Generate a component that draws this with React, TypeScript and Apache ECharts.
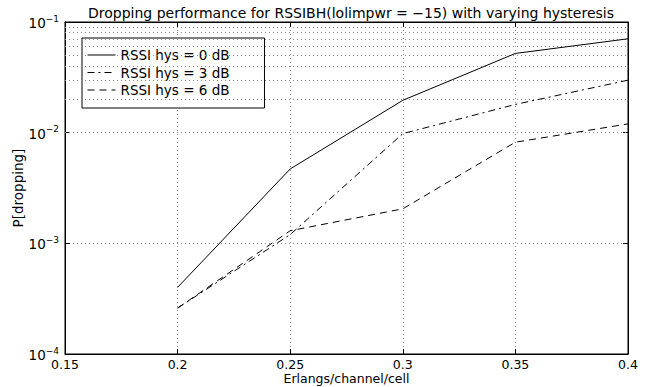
import React, { useEffect, useRef } from "react";
import * as echarts from "echarts";

const xValues = [0.2, 0.25, 0.3, 0.35, 0.4];
const hys0 = [4.0e-4, 4.7e-3, 0.0196, 0.052, 0.0705];
const hys3 = [2.6e-4, 1.2e-3, 0.0098, 0.018, 0.0298];
const hys6 = [2.6e-4, 1.3e-3, 2.05e-3, 8.2e-3, 0.012];
const seriesNames = ["RSSI hys = 0 dB", "RSSI hys = 3 dB", "RSSI hys = 6 dB"];
const titleText = "Dropping performance for RSSIBH(lolimpwr = \u221215) with varying hysteresis";
const xName = "Erlangs/channel/cell";
const yName = "P[dropping]";
const minorGrid = [
  2e-4, 3e-4, 4e-4, 5e-4, 6e-4, 7e-4, 8e-4, 9e-4,
  2e-3, 3e-3, 4e-3, 5e-3, 6e-3, 7e-3, 8e-3, 9e-3,
  2e-2, 3e-2, 4e-2, 5e-2, 6e-2, 7e-2, 8e-2, 9e-2,
];

const FONT = "DejaVu Sans";
const FS = 13.5;
const FS_AX = 12.5;

export default function App() {
  const ref = useRef<HTMLDivElement>(null);
  useEffect(() => {
    const chart = echarts.init(ref.current!, null, { renderer: "svg" });
    const mk = (vals: number[]) => xValues.map((x, i) => [x, vals[i]]);
    const gridDot = { color: "#8a8a8a", width: 1, type: [1, 3] as number[] };
    chart.setOption({
      animation: false,
      backgroundColor: "#fff",
      textStyle: { fontFamily: FONT },
      title: {
        text: titleText,
        left: 346,
        textAlign: "center",
        top: 1,
        textStyle: { fontFamily: FONT, fontSize: 14, fontWeight: "normal", color: "#000" },
      },
      grid: {
        left: 65,
        right: 32,
        top: 22,
        bottom: 33,
        outerBoundsMode: "none",
        containLabel: false,
        show: true,
        borderColor: "#000",
        borderWidth: 1,
        backgroundColor: "transparent",
      },
      legend: {
        orient: "vertical",
        left: 82,
        top: 38,
        data: seriesNames,
        itemWidth: 28,
        itemHeight: 14,
        itemGap: 3.5,
        padding: [10, 35, 11, 5],
        backgroundColor: "#fff",
        borderColor: "#000",
        borderWidth: 1,
        borderRadius: 0,
        itemStyle: { color: "transparent", borderColor: "transparent", borderWidth: 0, opacity: 0 },
        lineStyle: { color: "#000", width: 1 },
        textStyle: { fontFamily: FONT, fontSize: FS, color: "#000" },
      },
      xAxis: [
        {
          type: "value",
          min: 0.15,
          max: 0.4,
          interval: 0.05,
          name: xName,
          nameLocation: "middle",
          nameGap: 18,
          nameMoveOverlap: false,
          nameTextStyle: { fontFamily: FONT, fontSize: FS_AX, color: "#000", verticalAlign: "top", lineHeight: 13 },
          axisLine: { show: true, lineStyle: { color: "#000" } },
          axisTick: { show: true, inside: true, length: 5, lineStyle: { color: "#000" } },
          axisLabel: {
            fontFamily: FONT,
            fontSize: FS_AX,
            lineHeight: 13,
            color: "#000",
            margin: 4,
            formatter: (v: number) => String(+v.toFixed(2)),
          },
          splitLine: { show: true, lineStyle: gridDot },
        },
        {
          type: "value",
          position: "top",
          min: 0.15,
          max: 0.4,
          interval: 0.05,
          axisLine: { show: true, lineStyle: { color: "#000" } },
          axisTick: { show: true, inside: true, length: 5, lineStyle: { color: "#000" } },
          axisLabel: { show: false },
          splitLine: { show: false },
        },
      ],
      yAxis: [
        {
          type: "log",
          logBase: 10,
          min: 1e-4,
          max: 1e-1,
          name: yName,
          nameLocation: "middle",
          nameGap: 40,
          nameMoveOverlap: false,
          nameTextStyle: { fontFamily: FONT, fontSize: FS, color: "#000" },
          axisLine: { show: true, lineStyle: { color: "#000" } },
          axisTick: { show: true, inside: true, length: 5, lineStyle: { color: "#000" } },
          axisLabel: {
            color: "#000",
            margin: 6,
            formatter: (v: number) => {
              const e = Math.round(Math.log10(v));
              return "{b|10}{s|" + (e < 0 ? "\u2212" + -e : String(e)) + "}";
            },
            rich: {
              b: { fontFamily: FONT, fontSize: FS, color: "#000", verticalAlign: "bottom", lineHeight: 16 },
              s: { fontFamily: FONT, fontSize: 9, color: "#000", verticalAlign: "top", lineHeight: 16, padding: [0, 0, 6, 0] },
            },
          },
          splitLine: { show: true, lineStyle: gridDot },
        },
        {
          type: "log",
          logBase: 10,
          min: 1e-4,
          max: 1e-1,
          position: "right",
          axisLine: { show: true, lineStyle: { color: "#000" } },
          axisTick: { show: true, inside: true, length: 5, lineStyle: { color: "#000" } },
          axisLabel: { show: false },
          splitLine: { show: false },
        },
      ],
      series: [
        {
          name: "minor-grid",
          type: "line",
          data: [],
          silent: true,
          markLine: {
            silent: true,
            symbol: ["none", "none"],
            label: { show: false },
            lineStyle: gridDot,
            data: minorGrid.map((v) => ({ yAxis: v })),
          },
        },
        {
          name: seriesNames[0],
          type: "line",
          data: mk(hys0),
          symbol: "none",
          showSymbol: false,
          lineStyle: { color: "#000", width: 1, type: "solid" },
          itemStyle: { color: "#000" },
          z: 5,
        },
        {
          name: seriesNames[1],
          type: "line",
          data: mk(hys3),
          symbol: "none",
          showSymbol: false,
          lineStyle: { color: "#000", width: 1, type: [7, 4, 2, 4] },
          itemStyle: { color: "#000" },
          z: 5,
        },
        {
          name: seriesNames[2],
          type: "line",
          data: mk(hys6),
          symbol: "none",
          showSymbol: false,
          lineStyle: { color: "#000", width: 1, type: [7, 5] },
          itemStyle: { color: "#000" },
          z: 5,
        },
      ],
    });
    return () => chart.dispose();
  }, []);
  return <div ref={ref} style={{ position: "fixed", left: 0, top: 0, width: 660, height: 387 }} />;
}
